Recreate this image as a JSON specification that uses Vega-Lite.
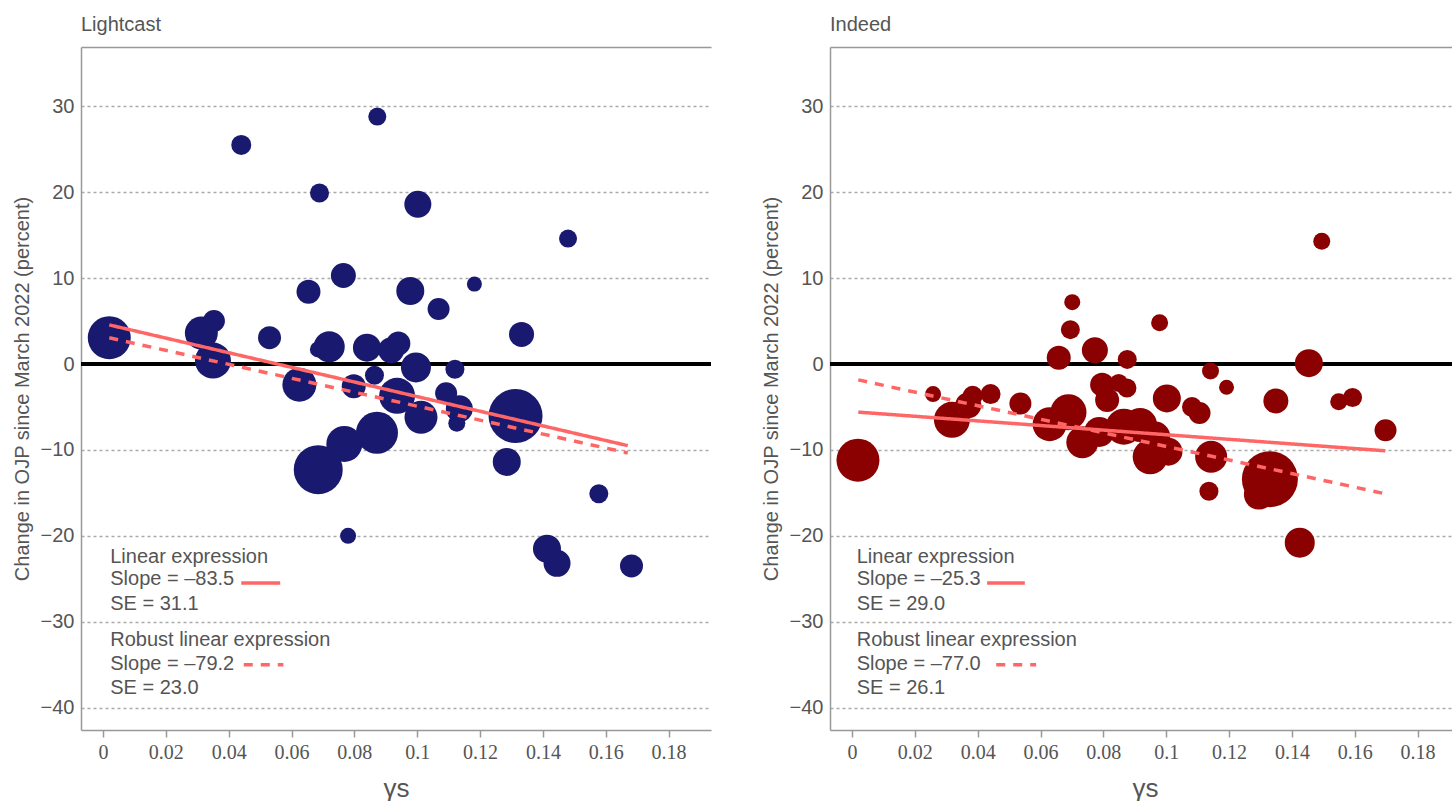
{
  "$schema": "https://vega.github.io/schema/vega-lite/v6.json",
  "padding": {"left": 12, "top": 15, "right": 0, "bottom": 0},
  "spacing": 48,
  "config": {
    "view": {"stroke": null},
    "font": "Liberation Sans",
    "title": {"fontSize": 20, "fontWeight": "normal", "color": "#555555", "anchor": "start", "frame": "group", "offset": 12, "font": "Liberation Sans"}
  },
  "datasets": {
    "lc_pts": [
      {"x": 0.044, "y": 25.5, "w": 4.0},
      {"x": 0.0873, "y": 28.8, "w": 3.24},
      {"x": 0.0689, "y": 19.9, "w": 3.61},
      {"x": 0.1002, "y": 18.6, "w": 7.29},
      {"x": 0.148, "y": 14.6, "w": 3.24},
      {"x": 0.0765, "y": 10.3, "w": 6.25},
      {"x": 0.0654, "y": 8.4, "w": 5.76},
      {"x": 0.0978, "y": 8.5, "w": 7.84},
      {"x": 0.1182, "y": 9.3, "w": 2.25},
      {"x": 0.1068, "y": 6.4, "w": 4.84},
      {"x": 0.1332, "y": 3.45, "w": 6.25},
      {"x": 0.053, "y": 3.06, "w": 5.29},
      {"x": 0.002, "y": 3.06, "w": 18.49},
      {"x": 0.0313, "y": 3.6, "w": 10.89},
      {"x": 0.0353, "y": 5.0, "w": 4.84},
      {"x": 0.035, "y": 0.4, "w": 12.96},
      {"x": 0.0625, "y": -2.4, "w": 11.56},
      {"x": 0.072, "y": 2.0, "w": 9.61},
      {"x": 0.0684, "y": 1.7, "w": 2.56},
      {"x": 0.084, "y": 1.9, "w": 7.84},
      {"x": 0.0917, "y": 1.6, "w": 6.76},
      {"x": 0.094, "y": 2.4, "w": 5.76},
      {"x": 0.0996, "y": -0.4, "w": 9.0},
      {"x": 0.112, "y": -0.6, "w": 3.61},
      {"x": 0.0864, "y": -1.3, "w": 3.61},
      {"x": 0.0798, "y": -2.6, "w": 5.76},
      {"x": 0.0936, "y": -3.7, "w": 12.96},
      {"x": 0.1012, "y": -6.2, "w": 10.89},
      {"x": 0.1092, "y": -3.4, "w": 4.84},
      {"x": 0.1134, "y": -5.2, "w": 7.29},
      {"x": 0.1126, "y": -6.9, "w": 2.89},
      {"x": 0.1313, "y": -6.05, "w": 29.16},
      {"x": 0.0872, "y": -8.0, "w": 17.64},
      {"x": 0.0768, "y": -9.3, "w": 12.96},
      {"x": 0.0685, "y": -12.3, "w": 24.01},
      {"x": 0.1285, "y": -11.4, "w": 7.84},
      {"x": 0.078, "y": -20.0, "w": 2.56},
      {"x": 0.1578, "y": -15.1, "w": 3.61},
      {"x": 0.1413, "y": -21.5, "w": 7.84},
      {"x": 0.1445, "y": -23.2, "w": 7.29},
      {"x": 0.1682, "y": -23.5, "w": 5.29}
    ],
    "lc_fit": [
      {"fit": "Linear", "x": 0.002, "y": 4.55},
      {"fit": "Linear", "x": 0.167, "y": -9.5},
      {"fit": "Robust", "x": 0.002, "y": 3.05},
      {"fit": "Robust", "x": 0.167, "y": -10.35}
    ],
    "lc_key": [
      {"fit": "Linear", "x": 0.044, "x2": 0.0564, "y": -25.5},
      {"fit": "Robust", "x": 0.0448, "x2": 0.0574, "y": -35.0}
    ],
    "lc_txt": [
      {"x": 0.0023, "y": -23.14, "label": "Linear expression"},
      {"x": 0.0023, "y": -25.78, "label": "Slope = –83.5"},
      {"x": 0.0023, "y": -28.69, "label": "SE = 31.1"},
      {"x": 0.0023, "y": -32.79, "label": "Robust linear expression"},
      {"x": 0.0023, "y": -35.58, "label": "Slope = –79.2"},
      {"x": 0.0023, "y": -38.37, "label": "SE = 23.0"}
    ],
    "in_pts": [
      {"x": 0.1495, "y": 14.3, "w": 2.89},
      {"x": 0.0701, "y": 7.2, "w": 2.56},
      {"x": 0.0695, "y": 4.0, "w": 3.61},
      {"x": 0.0979, "y": 4.8, "w": 2.89},
      {"x": 0.0658, "y": 0.73, "w": 5.76},
      {"x": 0.0773, "y": 1.6, "w": 6.76},
      {"x": 0.0876, "y": 0.54, "w": 3.61},
      {"x": 0.1454, "y": 0.1, "w": 7.84},
      {"x": 0.1141, "y": -0.8, "w": 2.89},
      {"x": 0.1192, "y": -2.7, "w": 2.25},
      {"x": 0.0258, "y": -3.5, "w": 2.56},
      {"x": 0.0019, "y": -11.2, "w": 18.49},
      {"x": 0.0318, "y": -6.5, "w": 12.96},
      {"x": 0.037, "y": -4.8, "w": 6.76},
      {"x": 0.0384, "y": -3.7, "w": 4.0},
      {"x": 0.0441, "y": -3.5, "w": 4.0},
      {"x": 0.0536, "y": -4.6, "w": 4.84},
      {"x": 0.0796, "y": -2.4, "w": 5.76},
      {"x": 0.0849, "y": -2.2, "w": 3.24},
      {"x": 0.0875, "y": -2.8, "w": 3.61},
      {"x": 0.0812, "y": -4.2, "w": 5.76},
      {"x": 0.0629, "y": -7.0, "w": 11.56},
      {"x": 0.0689, "y": -5.6, "w": 12.96},
      {"x": 0.0733, "y": -9.1, "w": 10.24},
      {"x": 0.0787, "y": -7.9, "w": 9.0},
      {"x": 0.0865, "y": -7.3, "w": 12.96},
      {"x": 0.0917, "y": -7.1, "w": 11.56},
      {"x": 0.0949, "y": -10.8, "w": 12.25},
      {"x": 0.1007, "y": -10.2, "w": 7.84},
      {"x": 0.1002, "y": -4.0, "w": 7.84},
      {"x": 0.1082, "y": -5.0, "w": 4.0},
      {"x": 0.0965, "y": -8.45, "w": 9.0},
      {"x": 0.1106, "y": -5.7, "w": 4.84},
      {"x": 0.1349, "y": -4.3, "w": 6.25},
      {"x": 0.1549, "y": -4.4, "w": 2.89},
      {"x": 0.1593, "y": -3.9, "w": 3.61},
      {"x": 0.1698, "y": -7.7, "w": 4.84},
      {"x": 0.1143, "y": -10.8, "w": 10.24},
      {"x": 0.1136, "y": -14.8, "w": 3.61},
      {"x": 0.133, "y": -13.4, "w": 31.36},
      {"x": 0.1295, "y": -15.2, "w": 9.0},
      {"x": 0.1425, "y": -20.8, "w": 9.0}
    ],
    "in_fit": [
      {"fit": "Linear", "x": 0.002, "y": -5.6},
      {"fit": "Linear", "x": 0.1697, "y": -10.1},
      {"fit": "Robust", "x": 0.002, "y": -1.85},
      {"fit": "Robust", "x": 0.1697, "y": -15.1}
    ],
    "in_key": [
      {"fit": "Linear", "x": 0.043, "x2": 0.055, "y": -25.5},
      {"fit": "Robust", "x": 0.0459, "x2": 0.0586, "y": -35.0}
    ],
    "in_txt": [
      {"x": 0.0015, "y": -23.14, "label": "Linear expression"},
      {"x": 0.0015, "y": -25.78, "label": "Slope = –25.3"},
      {"x": 0.0015, "y": -28.69, "label": "SE = 29.0"},
      {"x": 0.0015, "y": -32.79, "label": "Robust linear expression"},
      {"x": 0.0015, "y": -35.58, "label": "Slope = –77.0"},
      {"x": 0.0015, "y": -38.37, "label": "SE = 26.1"}
    ]
  },
  "hconcat": [
    {
      "width": 630,
      "height": 683,
      "title": {"text": "Lightcast"},
      "resolve": {"axis": {"x": "independent"}},
      "layer": [
        {
          "data": {"name": "lc_pts"},
          "mark": {"type": "rule", "color": "#000000", "strokeWidth": 3},
          "encoding": {"y": {"datum": 0, "type": "quantitative"}}
        },
        {
          "data": {"name": "lc_pts"},
          "mark": {"type": "circle", "color": "#191970", "opacity": 1},
          "encoding": {
            "x": {"field": "x", "type": "quantitative",
              "scale": {"domain": [-0.007, 0.1935], "nice": false, "zero": false},
              "axis": {"values": [0, 0.02, 0.04, 0.06, 0.08, 0.1, 0.12, 0.14, 0.16, 0.18], "format": "~g", "grid": false,
                "tickColor": "#999999", "tickSize": 7, "tickWidth": 1.5, "domainColor": "#999999", "domainWidth": 1.5,
                "labelFont": "Liberation Sans Narrow", "labelFontSize": 20, "labelColor": "#555555", "labelPadding": 5,
                "title": "γs", "titleFontSize": 26, "titleFontWeight": "normal", "titleColor": "#555555", "titlePadding": 13, "titleFont": "Liberation Sans"}},
            "y": {"field": "y", "type": "quantitative",
              "scale": {"domain": [-42.6, 36.9], "nice": false, "zero": false},
              "axis": {"values": [-40, -30, -20, -10, 0, 10, 20, 30], "grid": true, "gridDash": [3, 3], "gridColor": "#aaaaaa", "gridWidth": 1.5,
                "ticks": false, "tickSize": 0, "domainColor": "#999999", "domainWidth": 1.5,
                "labelFontSize": 20, "labelColor": "#555555", "labelPadding": 7,
                "title": "Change in OJP since March 2022 (percent)", "titleFontSize": 20, "titleFontWeight": "normal", "titleColor": "#555555", "titlePadding": 8}},
            "size": {"field": "w", "type": "quantitative", "scale": {"domain": [0, 40], "range": [0, 4000]}, "legend": null}
          }
        },
        {
          "data": {"name": "lc_fit"},
          "mark": {"type": "line", "color": "#ff6666", "strokeWidth": 3.5},
          "encoding": {
            "x": {"field": "x", "type": "quantitative", "axis": {"orient": "top", "labels": false, "ticks": false, "title": null, "grid": false, "domainColor": "#999999", "domainWidth": 1.5}},
            "y": {"field": "y", "type": "quantitative"},
            "strokeDash": {"field": "fit", "type": "nominal", "scale": {"domain": ["Linear", "Robust"], "range": [[1, 0], [9, 8]]}, "legend": null}
          }
        },
        {
          "data": {"name": "lc_key"},
          "mark": {"type": "rule", "color": "#ff6666", "strokeWidth": 3.5},
          "encoding": {
            "x": {"field": "x", "type": "quantitative", "axis": null},
            "x2": {"field": "x2"},
            "y": {"field": "y", "type": "quantitative"},
            "strokeDash": {"field": "fit", "type": "nominal", "legend": null}
          }
        },
        {
          "data": {"name": "lc_txt"},
          "mark": {"type": "text", "align": "left", "baseline": "alphabetic", "fontSize": 20, "color": "#555555"},
          "encoding": {
            "x": {"field": "x", "type": "quantitative", "axis": null},
            "y": {"field": "y", "type": "quantitative"},
            "text": {"field": "label"}
          }
        }
      ]
    },
    {
      "width": 630,
      "height": 683,
      "title": {"text": "Indeed"},
      "resolve": {"axis": {"x": "independent"}},
      "layer": [
        {
          "data": {"name": "in_pts"},
          "mark": {"type": "rule", "color": "#000000", "strokeWidth": 3},
          "encoding": {"y": {"datum": 0, "type": "quantitative"}}
        },
        {
          "data": {"name": "in_pts"},
          "mark": {"type": "circle", "color": "#8b0000", "opacity": 1},
          "encoding": {
            "x": {"field": "x", "type": "quantitative",
              "scale": {"domain": [-0.007, 0.1935], "nice": false, "zero": false},
              "axis": {"values": [0, 0.02, 0.04, 0.06, 0.08, 0.1, 0.12, 0.14, 0.16, 0.18], "format": "~g", "grid": false,
                "tickColor": "#999999", "tickSize": 7, "tickWidth": 1.5, "domainColor": "#999999", "domainWidth": 1.5,
                "labelFont": "Liberation Sans Narrow", "labelFontSize": 20, "labelColor": "#555555", "labelPadding": 5,
                "title": "γs", "titleFontSize": 26, "titleFontWeight": "normal", "titleColor": "#555555", "titlePadding": 13, "titleFont": "Liberation Sans"}},
            "y": {"field": "y", "type": "quantitative",
              "scale": {"domain": [-42.6, 36.9], "nice": false, "zero": false},
              "axis": {"values": [-40, -30, -20, -10, 0, 10, 20, 30], "grid": true, "gridDash": [3, 3], "gridColor": "#aaaaaa", "gridWidth": 1.5,
                "ticks": false, "tickSize": 0, "domainColor": "#999999", "domainWidth": 1.5,
                "labelFontSize": 20, "labelColor": "#555555", "labelPadding": 7,
                "title": "Change in OJP since March 2022 (percent)", "titleFontSize": 20, "titleFontWeight": "normal", "titleColor": "#555555", "titlePadding": 8}},
            "size": {"field": "w", "type": "quantitative", "scale": {"domain": [0, 40], "range": [0, 4000]}, "legend": null}
          }
        },
        {
          "data": {"name": "in_fit"},
          "mark": {"type": "line", "color": "#ff6666", "strokeWidth": 3.5},
          "encoding": {
            "x": {"field": "x", "type": "quantitative", "axis": {"orient": "top", "labels": false, "ticks": false, "title": null, "grid": false, "domainColor": "#999999", "domainWidth": 1.5}},
            "y": {"field": "y", "type": "quantitative"},
            "strokeDash": {"field": "fit", "type": "nominal", "scale": {"domain": ["Linear", "Robust"], "range": [[1, 0], [9, 8]]}, "legend": null}
          }
        },
        {
          "data": {"name": "in_key"},
          "mark": {"type": "rule", "color": "#ff6666", "strokeWidth": 3.5},
          "encoding": {
            "x": {"field": "x", "type": "quantitative", "axis": null},
            "x2": {"field": "x2"},
            "y": {"field": "y", "type": "quantitative"},
            "strokeDash": {"field": "fit", "type": "nominal", "legend": null}
          }
        },
        {
          "data": {"name": "in_txt"},
          "mark": {"type": "text", "align": "left", "baseline": "alphabetic", "fontSize": 20, "color": "#555555"},
          "encoding": {
            "x": {"field": "x", "type": "quantitative", "axis": null},
            "y": {"field": "y", "type": "quantitative"},
            "text": {"field": "label"}
          }
        }
      ]
    }
  ]
}
